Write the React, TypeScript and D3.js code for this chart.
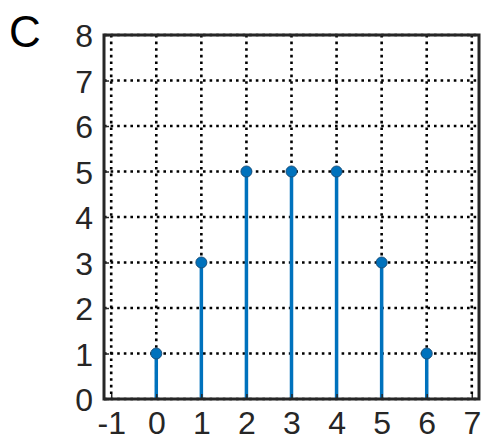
import * as d3 from "d3";
import { useEffect, useRef } from "react";

// stem data
const xValues = [0, 1, 2, 3, 4, 5, 6];
const yValues = [1, 3, 5, 5, 5, 3, 1];
const xTicks = [-1, 0, 1, 2, 3, 4, 5, 6, 7];
const yTicks = [0, 1, 2, 3, 4, 5, 6, 7, 8];
const panelLabel = "C";

export default function App() {
  const svgRef = useRef<SVGSVGElement | null>(null);

  useEffect(() => {
    if (!svgRef.current) return;
    const svg = d3.select(svgRef.current);
    svg.selectAll("*").remove();

    const width = 484;
    const height = 441;
    const left = 104;
    const right = 479;
    const top = 35;
    const bottom = 399;
    const ink = "#262626";
    const blue = "#0072BD";
    const font = "'Liberation Sans', Arial, sans-serif";

    const x = d3.scaleLinear().domain([-1.16, 7.16]).range([left, right]);
    const y = d3.scaleLinear().domain([0, 8]).range([bottom, top]);

    svg.attr("width", width).attr("height", height).attr("viewBox", [0, 0, width, height]);

    // dotted grid
    const grid = svg.append("g")
      .attr("stroke", "#000")
      .attr("stroke-width", 2.6)
      .attr("stroke-dasharray", "2.6,4");
    grid.selectAll("line.v")
      .data(xTicks)
      .join("line")
      .attr("class", "v")
      .attr("x1", d => x(d))
      .attr("x2", d => x(d))
      .attr("y1", top)
      .attr("y2", bottom);
    grid.selectAll("line.h")
      .data(yTicks)
      .join("line")
      .attr("class", "h")
      .attr("x1", left)
      .attr("x2", right)
      .attr("y1", d => y(d))
      .attr("y2", d => y(d));

    // stems
    svg.append("g")
      .selectAll("line")
      .data(xValues)
      .join("line")
      .attr("x1", d => x(d))
      .attr("x2", d => x(d))
      .attr("y1", y(0))
      .attr("y2", (d, i) => y(yValues[i]))
      .attr("stroke", blue)
      .attr("stroke-width", 3.5);

    svg.append("g")
      .selectAll("circle")
      .data(xValues)
      .join("circle")
      .attr("cx", d => x(d))
      .attr("cy", (d, i) => y(yValues[i]))
      .attr("r", 5.5)
      .attr("fill", blue)
      .attr("stroke", "#1a4f7a")
      .attr("stroke-width", 1);

    // axes: ticks inward, box all round
    const xAxis = svg.append("g")
      .attr("transform", `translate(0,${bottom})`)
      .call(d3.axisBottom(x).tickValues(xTicks).tickFormat(d => String(d)).tickSize(-5).tickSizeOuter(0).tickPadding(12));
    const yAxis = svg.append("g")
      .attr("transform", `translate(${left},0)`)
      .call(d3.axisLeft(y).tickValues(yTicks).tickFormat(d => String(d)).tickSize(-5).tickSizeOuter(0).tickPadding(11));
    [xAxis, yAxis].forEach(g => {
      g.select(".domain").remove();
      g.selectAll(".tick line").attr("stroke", ink).attr("stroke-width", 1.5);
      g.selectAll("text")
        .attr("fill", ink)
        .style("font-family", font)
        .style("font-size", "32px");
    });
    xAxis.selectAll("text").attr("dy", "0.71em");
    yAxis.selectAll("text").attr("dy", "0.36em");

    svg.append("rect")
      .attr("x", left)
      .attr("y", top)
      .attr("width", right - left)
      .attr("height", bottom - top)
      .attr("fill", "none")
      .attr("stroke", ink)
      .attr("stroke-width", 3);

    svg.append("text")
      .attr("x", 9)
      .attr("y", 47)
      .attr("fill", "#000")
      .style("font-family", font)
      .style("font-size", "44px")
      .text(panelLabel);
  }, []);

  return <svg ref={svgRef} style={{ position: "absolute", left: 0, top: 0 }}></svg>;
}
